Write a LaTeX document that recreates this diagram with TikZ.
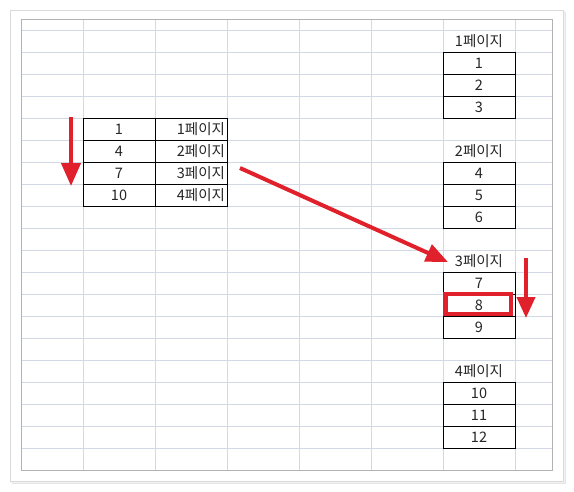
\documentclass[tikz,border=0pt]{standalone}
\usepackage{fontspec}
\newfontfamily\krfont{Noto Sans CJK KR}
\usetikzlibrary{arrows.meta}
\definecolor{gridc}{RGB}{210,216,228}
\definecolor{redc}{RGB}{224,32,42}
\tikzset{
  cell/.style={draw=black, line width=1pt, minimum width=72pt, minimum height=22pt, inner sep=0pt,
    font=\krfont\fontsize{14.5}{16}\selectfont, text=black!85},
  rcell/.style={cell, text width=68pt, inner xsep=2pt, align=right},
  lbl/.style={inner sep=0pt, font=\krfont\fontsize{14.5}{16}\selectfont, text=black!85},
  redarrow/.style={draw=redc, line width=4pt, -{Triangle[length=23pt,width=19pt]}},
  redbox/.style={draw=redc, line width=4.5pt, minimum width=65.5pt, minimum height=20pt, inner sep=0pt}
}
\begin{document}
\begin{tikzpicture}[x=1pt,y=-1pt]
\useasboundingbox (0,0) rectangle (574,491);
% card with shadow
\fill[black!10] (12,12) rectangle (566,484);
\fill[black!5] (11,11) rectangle (565,483);
\filldraw[fill=white, draw=black!15, line width=0.8pt] (10,10) rectangle (563,481);
% grid
\foreach \x in {83,155,227,299,371,443,515} \draw[gridc, line width=1pt] (\x,19) -- (\x,470);
\foreach \k in {0,...,19} \draw[gridc, line width=1pt] (21,30+22*\k) -- (552,30+22*\k);
\draw[black!30, line width=1pt] (21,19) rectangle (552,470);
% left table
\node[cell] (a1) at (119,129) {1};
\node[cell] (a2) at (119,151) {4};
\node[cell] (a3) at (119,173) {7};
\node[cell] (a4) at (119,195) {10};
\node[rcell] (b1) at (191,129) {1페이지};
\node[rcell] (b2) at (191,151) {2페이지};
\node[rcell] (b3) at (191,173) {3페이지};
\node[rcell] (b4) at (191,195) {4페이지};
% right tables
\node[lbl] (p1) at (479,41) {1페이지};
\node[cell] (r1) at (479,63) {1};
\node[cell] (r2) at (479,85) {2};
\node[cell] (r3) at (479,107) {3};
\node[lbl] (p2) at (479,151) {2페이지};
\node[cell] (r4) at (479,173) {4};
\node[cell] (r5) at (479,195) {5};
\node[cell] (r6) at (479,217) {6};
\node[lbl] (p3) at (479,261) {3페이지};
\node[cell] (r7) at (479,283) {7};
\node[cell] (r8) at (479,305) {8};
\node[cell] (r9) at (479,327) {9};
\node[lbl] (p4) at (479,371) {4페이지};
\node[cell] (r10) at (479,393) {10};
\node[cell] (r11) at (479,415) {11};
\node[cell] (r12) at (479,437) {12};
% highlight
\node[redbox] (hl) at (478,304) {};
% arrows
\coordinate (la1) at (71,117);
\coordinate (la2) at (71,186);
\coordinate (da1) at (240,168);
\coordinate (da2) at (448,262);
\coordinate (ra1) at (526,258);
\coordinate (ra2) at (526,318);
\draw[redarrow] (la1) -- (la2);
\draw[redarrow, -{Triangle[length=22pt,width=18pt]}] (da1) -- (da2);
\draw[redarrow, -{Triangle[length=21pt,width=18pt]}] (ra1) -- (ra2);
\end{tikzpicture}
\end{document}
